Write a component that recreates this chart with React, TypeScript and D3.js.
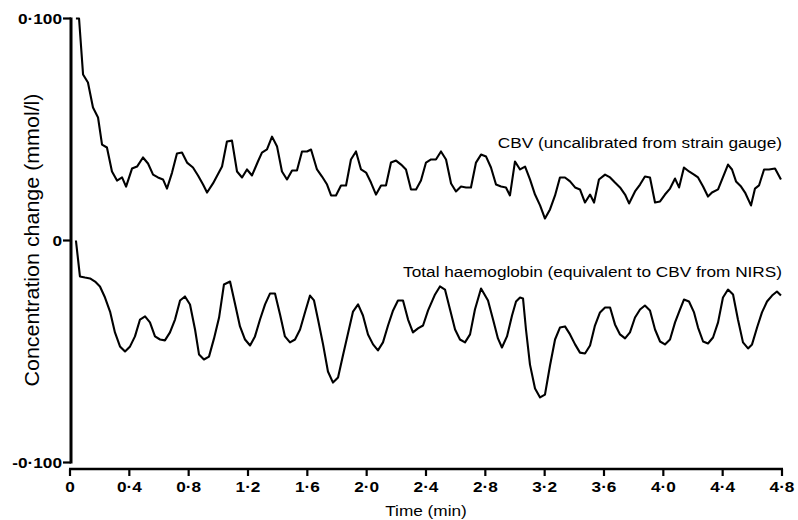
import React, { useRef, useEffect } from 'react'
import * as d3 from 'd3'

// CBV from strain gauge, [time (min), change (mmol/l)]
const cbv: [number, number][] = [
  [0.040, 0.100], [0.061, 0.100], [0.088, 0.0748], [0.121, 0.0712], [0.155, 0.0599], [0.189, 0.0554],
  [0.216, 0.0432], [0.249, 0.0419], [0.283, 0.0311], [0.317, 0.0270], [0.351, 0.0284], [0.378, 0.0243],
  [0.418, 0.0324], [0.452, 0.0333], [0.492, 0.0374], [0.526, 0.0347], [0.560, 0.0297], [0.593, 0.0284],
  [0.627, 0.0275], [0.654, 0.0234], [0.688, 0.0306], [0.721, 0.0392], [0.755, 0.0396], [0.789, 0.0351],
  [0.829, 0.0329], [0.863, 0.0293], [0.897, 0.0252], [0.924, 0.0216], [0.964, 0.0257], [1.025, 0.0333],
  [1.058, 0.0446], [1.092, 0.0450], [1.126, 0.0311], [1.160, 0.0284], [1.193, 0.0320], [1.227, 0.0293],
  [1.267, 0.0356], [1.294, 0.0396], [1.328, 0.0410], [1.362, 0.0468], [1.396, 0.0423], [1.429, 0.0311],
  [1.463, 0.0275], [1.497, 0.0315], [1.530, 0.0315], [1.564, 0.0401], [1.598, 0.0401], [1.625, 0.0410],
  [1.665, 0.0320], [1.699, 0.0288], [1.733, 0.0252], [1.760, 0.0203], [1.793, 0.0203], [1.827, 0.0248],
  [1.861, 0.0248], [1.894, 0.0365], [1.928, 0.0401], [1.962, 0.0320], [1.996, 0.0306], [2.029, 0.0261],
  [2.063, 0.0207], [2.097, 0.0248], [2.130, 0.0248], [2.164, 0.0351], [2.198, 0.0360], [2.232, 0.0342],
  [2.265, 0.0320], [2.299, 0.0230], [2.333, 0.0230], [2.366, 0.0270], [2.400, 0.0351], [2.434, 0.0365],
  [2.467, 0.0365], [2.501, 0.0401], [2.535, 0.0365], [2.569, 0.0257], [2.602, 0.0221], [2.636, 0.0243],
  [2.670, 0.0239], [2.703, 0.0239], [2.737, 0.0351], [2.771, 0.0387], [2.805, 0.0378], [2.838, 0.0329],
  [2.872, 0.0252], [2.906, 0.0243], [2.939, 0.0239], [2.966, 0.0203], [3.000, 0.0356], [3.034, 0.0320],
  [3.068, 0.0333], [3.101, 0.0275], [3.135, 0.0207], [3.169, 0.0158], [3.202, 0.0099], [3.236, 0.0140],
  [3.270, 0.0203], [3.303, 0.0284], [3.337, 0.0284], [3.371, 0.0266], [3.405, 0.0239], [3.438, 0.0230],
  [3.472, 0.0171], [3.506, 0.0207], [3.533, 0.0171], [3.566, 0.0275], [3.607, 0.0297], [3.641, 0.0284],
  [3.674, 0.0261], [3.708, 0.0239], [3.742, 0.0207], [3.769, 0.0167], [3.809, 0.0221], [3.843, 0.0252],
  [3.876, 0.0288], [3.910, 0.0284], [3.944, 0.0171], [3.978, 0.0176], [4.011, 0.0207], [4.045, 0.0234],
  [4.079, 0.0279], [4.106, 0.0239], [4.139, 0.0329], [4.173, 0.0311], [4.207, 0.0297], [4.234, 0.0284],
  [4.268, 0.0243], [4.301, 0.0198], [4.328, 0.0216], [4.369, 0.0230], [4.396, 0.0275], [4.436, 0.0342],
  [4.463, 0.0320], [4.490, 0.0266], [4.524, 0.0243], [4.551, 0.0216], [4.591, 0.0158], [4.618, 0.0234],
  [4.645, 0.0248], [4.679, 0.0320], [4.712, 0.0320], [4.753, 0.0324], [4.793, 0.0275],
]

// total haemoglobin from NIRS
const hb: [number, number][] = [
  [0.040, 0], [0.067, -0.0162], [0.101, -0.0167], [0.135, -0.0171], [0.169, -0.0185], [0.202, -0.0207],
  [0.236, -0.0257], [0.270, -0.0320], [0.303, -0.0414], [0.337, -0.0477], [0.371, -0.0500], [0.405, -0.0477],
  [0.438, -0.0432], [0.472, -0.0356], [0.506, -0.0342], [0.539, -0.0369], [0.573, -0.0432], [0.607, -0.0446],
  [0.640, -0.0450], [0.674, -0.0414], [0.708, -0.0356], [0.742, -0.0270], [0.775, -0.0252], [0.809, -0.0288],
  [0.843, -0.0401], [0.870, -0.0514], [0.903, -0.0536], [0.937, -0.0523], [0.971, -0.0441], [1.005, -0.0347],
  [1.038, -0.0198], [1.079, -0.0185], [1.112, -0.0284], [1.146, -0.0387], [1.180, -0.0446], [1.214, -0.0473],
  [1.247, -0.0432], [1.281, -0.0356], [1.315, -0.0288], [1.348, -0.0239], [1.382, -0.0239], [1.416, -0.0333],
  [1.449, -0.0432], [1.483, -0.0459], [1.517, -0.0446], [1.551, -0.0401], [1.584, -0.0324], [1.618, -0.0248],
  [1.645, -0.0270], [1.672, -0.0356], [1.706, -0.0468], [1.739, -0.0590], [1.773, -0.0640], [1.807, -0.0617],
  [1.840, -0.0518], [1.874, -0.0419], [1.908, -0.0320], [1.942, -0.0288], [1.975, -0.0338], [2.009, -0.0423],
  [2.043, -0.0468], [2.076, -0.0495], [2.110, -0.0459], [2.144, -0.0383], [2.178, -0.0315], [2.211, -0.0270],
  [2.245, -0.0270], [2.279, -0.0356], [2.312, -0.0414], [2.346, -0.0396], [2.380, -0.0383], [2.414, -0.0315],
  [2.461, -0.0243], [2.494, -0.0207], [2.528, -0.0221], [2.562, -0.0311], [2.596, -0.0401], [2.629, -0.0446],
  [2.663, -0.0459], [2.697, -0.0423], [2.730, -0.0311], [2.771, -0.0216], [2.818, -0.0270], [2.852, -0.0356],
  [2.885, -0.0441], [2.912, -0.0482], [2.946, -0.0432], [2.980, -0.0338], [3.007, -0.0275], [3.034, -0.0257],
  [3.054, -0.0261], [3.074, -0.0401], [3.101, -0.0559], [3.135, -0.0667], [3.169, -0.0707], [3.202, -0.0694],
  [3.236, -0.0563], [3.270, -0.0446], [3.303, -0.0392], [3.337, -0.0387], [3.371, -0.0423], [3.405, -0.0468],
  [3.438, -0.0505], [3.472, -0.0509], [3.506, -0.0473], [3.539, -0.0383], [3.573, -0.0324], [3.607, -0.0302],
  [3.641, -0.0302], [3.674, -0.0378], [3.708, -0.0423], [3.742, -0.0441], [3.775, -0.0414], [3.809, -0.0347],
  [3.843, -0.0311], [3.876, -0.0293], [3.910, -0.0315], [3.944, -0.0401], [3.978, -0.0455], [4.011, -0.0468],
  [4.045, -0.0446], [4.079, -0.0369], [4.112, -0.0311], [4.139, -0.0266], [4.173, -0.0275], [4.207, -0.0324],
  [4.234, -0.0392], [4.268, -0.0455], [4.301, -0.0464], [4.335, -0.0437], [4.369, -0.0369], [4.402, -0.0257],
  [4.436, -0.0221], [4.470, -0.0243], [4.503, -0.0356], [4.537, -0.0459], [4.571, -0.0486], [4.598, -0.0468],
  [4.632, -0.0392], [4.665, -0.0324], [4.699, -0.0275], [4.733, -0.0248], [4.766, -0.0230], [4.793, -0.0248],
]

const xTicks = [0, 0.4, 0.8, 1.2, 1.6, 2.0, 2.4, 2.8, 3.2, 3.6, 4.0, 4.4, 4.8]
const xTickLabels = ['0', '0·4', '0·8', '1·2', '1·6', '2·0', '2·4', '2·8', '3·2', '3·6', '4·0', '4·4', '4·8']
const yTicks = [0.1, 0, -0.1]
const yTickLabels = ['0·100', '0', '-0·100']

const cbvLabel = 'CBV (uncalibrated from strain gauge)'
const hbLabel = 'Total haemoglobin (equivalent to CBV from NIRS)'

function App() {
  const ref = useRef<SVGSVGElement>(null)
  const width = 798, height = 520
  const font = '"Liberation Sans", Arial, Helvetica, sans-serif'
  const sx = 1.23 // glyphs in the scan are wide

  useEffect(() => {
    const svg = d3.select(ref.current)
    svg.selectAll('*').remove()

    const x = d3.scaleLinear().domain([0, 4.8]).range([70, 782])
    const y = d3.scaleLinear().domain([-0.1, 0.1]).range([462.5, 18.5])

    const txt = (px: number, py: number, s: string, anchor: string, size: number, weight = 'normal') =>
      svg.append('text')
        .attr('transform', `translate(${px},${py}) scale(${sx},1)`)
        .attr('text-anchor', anchor)
        .attr('font-family', font)
        .attr('font-size', size)
        .attr('font-weight', weight)
        .attr('fill', '#000')
        .text(s)

    // y axis
    svg.append('line')
      .attr('x1', 71).attr('x2', 71)
      .attr('y1', y(0.1) - 1).attr('y2', y(-0.1) + 1)
      .attr('stroke', '#000').attr('stroke-width', 3)
    yTicks.forEach((t, i) => {
      svg.append('line')
        .attr('x1', 63).attr('x2', 71)
        .attr('y1', y(t)).attr('y2', y(t))
        .attr('stroke', '#000').attr('stroke-width', 2.2)
      txt(62, y(t) + 5, yTickLabels[i], 'end', 14, 'bold')
    })

    // x axis
    const ay = 469
    svg.append('line')
      .attr('x1', x(0) - 1).attr('x2', x(4.8) + 1)
      .attr('y1', ay).attr('y2', ay)
      .attr('stroke', '#000').attr('stroke-width', 2.5)
    xTicks.forEach((t, i) => {
      svg.append('line')
        .attr('x1', x(t)).attr('x2', x(t))
        .attr('y1', ay).attr('y2', ay + 7)
        .attr('stroke', '#000').attr('stroke-width', 2.2)
      txt(x(t), 492, xTickLabels[i], 'middle', 14, 'bold')
    })

    txt(426, 516, 'Time (min)', 'middle', 14)

    svg.append('text')
      .attr('transform', `translate(39,240) scale(${sx},1) rotate(-90)`)
      .attr('text-anchor', 'middle')
      .attr('font-family', font)
      .attr('font-size', 17)
      .attr('textLength', 293)
      .attr('lengthAdjust', 'spacingAndGlyphs')
      .attr('fill', '#000')
      .text('Concentration change (mmol/l)')

    const lineGen = d3.line<[number, number]>()
      .x(d => x(d[0]))
      .y(d => y(d[1]))

    ;[cbv, hb].forEach(series => {
      svg.append('path')
        .datum(series)
        .attr('d', lineGen)
        .attr('fill', 'none')
        .attr('stroke', '#000')
        .attr('stroke-width', 2.1)
        .attr('stroke-linejoin', 'round')
    })

    txt(782, 148, cbvLabel, 'end', 14)
    txt(782, 277, hbLabel, 'end', 14)
  }, [])

  return (
    <svg
      ref={ref}
      width={width}
      height={height}
      viewBox={`0 0 ${width} ${height}`}
      style={{ position: 'absolute', left: 0, top: 0, background: '#fff' }}
    />
  )
}

export default App
